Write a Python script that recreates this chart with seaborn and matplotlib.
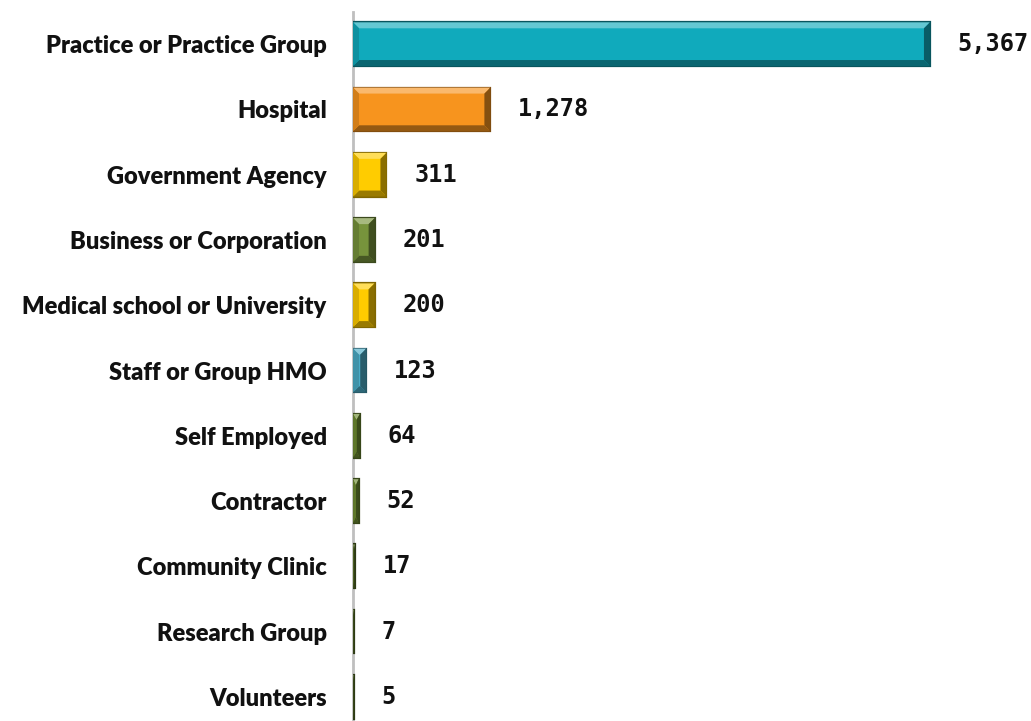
import matplotlib
matplotlib.use("Agg")
import matplotlib.pyplot as plt
from matplotlib.patches import Polygon
import matplotlib.colors as mcolors
import numpy as np
import pandas as pd
import seaborn as sns

categories = ["Practice or Practice Group", "Hospital", "Government Agency",
              "Business or Corporation", "Medical school or University",
              "Staff or Group HMO", "Self Employed", "Contractor",
              "Community Clinic", "Research Group", "Volunteers"]
counts = [5367, 1278, 311, 201, 200, 123, 64, 52, 17, 7, 5]
colors = ["#10AABC", "#F7941E", "#FFCC00", "#77933C", "#FFCC00", "#4BACC6",
          "#6E8C32", "#6E8C32", "#5A7428", "#5A7428", "#5A7428"]

df = pd.DataFrame({"category": categories, "count": counts})

sns.set_style("white")
plt.rcParams['font.family'] = ['Lato', 'DejaVu Sans']

fig = plt.figure(figsize=(10.31, 7.21), dpi=100)
ax = fig.add_axes([0.3424, 0.0, 1 - 0.3424, 0.984])

sns.barplot(data=df, y="category", x="count", hue="category", palette=colors,
            legend=False, orient="h", width=0.67, ax=ax, saturation=1)

ax.set_xlim(0, 6307)
ax.set_ylim(10.37, -0.5)
ax.set_xlabel("")
ax.set_ylabel("")
ax.set_xticks([])
for s in ["top", "right", "bottom"]:
    ax.spines[s].set_visible(False)
ax.spines["left"].set_color("#BFBFBF")
ax.spines["left"].set_linewidth(2)
ax.spines["left"].set_zorder(0)
ax.tick_params(axis="y", length=0, pad=19)
for lab in ax.get_yticklabels():
    lab.set_fontsize(17)
    lab.set_fontweight("heavy")
    lab.set_color("#111111")

# bevel effect on each bar, built from the bar geometry
inv = ax.transData.inverted()
bev = 6  # pixels
for patch, c in zip(ax.patches, colors):
    base = np.array(mcolors.to_rgb(c))
    patch.set_edgecolor(mcolors.to_hex(base * 0.5))
    patch.set_linewidth(1.6)
    x0, y0, x1, y1 = patch.get_window_extent().extents
    b = min(bev, (x1 - x0) / 2)
    light = base + (1 - base) * 0.35
    dark = base * 0.6
    faces = [
        ([(x0, y1), (x1, y1), (x1 - b, y1 - bev), (x0 + b, y1 - bev)], light),
        ([(x0, y0), (x1, y0), (x1 - b, y0 + bev), (x0 + b, y0 + bev)], dark),
        ([(x1, y0), (x1, y1), (x1 - b, y1 - bev), (x1 - b, y0 + bev)], dark * 0.9),
        ([(x0, y0), (x0, y1), (x0 + b, y1 - bev), (x0 + b, y0 + bev)], base * 0.85),
    ]
    for pts, fc in faces:
        ax.add_patch(Polygon(inv.transform(pts), closed=True,
                             facecolor=np.clip(fc, 0, 1), edgecolor="none"))

for container in ax.containers:
    ax.bar_label(container, labels=[f"{int(v):,}" for v in container.datavalues],
                 padding=20, fontsize=17, fontweight="bold",
                 family="DejaVu Sans Mono", color="#111111")

fig.savefig("out.png", dpi=100)
